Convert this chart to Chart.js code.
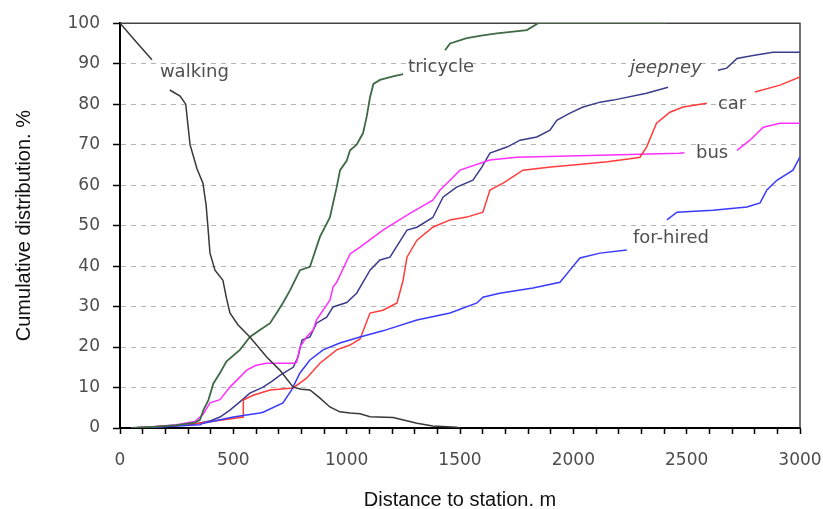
<!DOCTYPE html>
<html>
<head>
<meta charset="utf-8">
<script src="https://cdn.jsdelivr.net/npm/chart.js@4/dist/chart.umd.min.js"></script>
<style>
  html, body { margin: 0; padding: 0; background: #fff; }
  #cadre { width: 823px; height: 509px; }
</style>
</head>
<body>
<div id="cadre"><canvas id="graphique" width="823" height="509"></canvas></div>
<script>
// Distance (m) et part cumulee (%) par mode ; null = coupure pour l etiquette
const walkingX = [0, 70, 141, 180, 220, 265, 290, 309, 340, 366, 380, 388, 397, 419, 454, 470, 485, 520, 573, 648, 705, 764, 800, 838, 880, 926, 970, 1015, 1059, 1103, 1205, 1310, 1380, 1485, 1500];
const walkingY = [100, 95.5, 91, null, 83.5, 82, 80, 70, 64, 60.5, 55, 49.6, 43.2, 39, 36.5, 32, 28.4, 25.5, 22.5, 17.5, 14.3, 10.1, 9.6, 9.4, 7.5, 5.2, 4, 3.7, 3.5, 2.8, 2.6, 1.2, 0.5, 0.2, 0];

const tricycleX = [50, 150, 250, 330, 353, 368, 390, 412, 441, 470, 529, 573, 617, 662, 691, 720, 750, 794, 838, 882, 926, 956, 971, 1000, 1015, 1044, 1072, 1088, 1103, 1118, 1147, 1200, 1249, 1340, 1434, 1456, 1530, 1600, 1663, 1795, 1845, 2410];
const tricycleY = [0, 0.3, 0.7, 1.3, 2, 4.4, 6.9, 11, 13.6, 16.5, 19.3, 22.5, 24.2, 25.9, 28.4, 31, 34, 39, 39.8, 47.2, 52, 59.5, 63.7, 66, 68.6, 70, 72.8, 76.8, 81.7, 85, 86, 86.8, 87.4, null, 93.3, 95, 96.3, 97, 97.5, 98.3, 100, 100];

const jeepneyX = [50, 150, 250, 330, 400, 441, 485, 530, 573, 631, 670, 705, 764, 785, 803, 838, 867, 912, 940, 1000, 1044, 1103, 1147, 1191, 1266, 1310, 1380, 1425, 1485, 1557, 1597, 1632, 1707, 1765, 1839, 1897, 1927, 1985, 2043, 2118, 2176, 2323, 2418, 2530, 2638, 2677, 2722, 2793, 2881, 3000];
const jeepneyY = [0, 0.3, 0.6, 1, 1.8, 2.7, 4.4, 6.5, 8.6, 10.1, 11.5, 13, 15, 17.5, 21.7, 22.5, 25.9, 27.4, 29.9, 31, 33.3, 39, 41.5, 42.2, 48.9, 49.6, 52, 57, 59.5, 61.2, 64.5, 67.9, 69.4, 71.1, 71.9, 73.6, 76, 77.8, 79.3, 80.5, 81, 82.7, 84.2, null, 88.4, 88.9, 91.3, 92, 92.8, 92.8];

const carX = [50, 150, 250, 350, 450, 544, 544, 587, 662, 764, 823, 882, 956, 1015, 1059, 1103, 1160, 1222, 1249, 1266, 1310, 1380, 1456, 1530, 1601, 1632, 1690, 1778, 1900, 2000, 2150, 2250, 2294, 2323, 2367, 2426, 2484, 2589, 2700, 2801, 2912, 3000];
const carY = [0, 0.3, 0.6, 1.2, 2, 2.7, 6.9, 8.1, 9.4, 9.9, 12.3, 16, 19.3, 20.5, 22, 28.4, 29.1, 30.9, 36.5, 42.2, 46.4, 49.6, 51.4, 52.1, 53.3, 58.8, 60.5, 63.7, 64.5, 65, 65.8, 66.5, 66.9, 69.4, 75.3, 78, 79.3, 80.2, null, 83, 84.7, 86.7];

const busX = [50, 150, 250, 330, 353, 368, 397, 441, 485, 559, 600, 648, 764, 779, 794, 823, 852, 867, 926, 940, 956, 1015, 1059, 1160, 1279, 1380, 1412, 1456, 1500, 1632, 1750, 2118, 2469, 2490, 2600, 2722, 2779, 2838, 2912, 3000];
const busY = [0, 0.3, 0.8, 1.6, 2.7, 3.5, 6.2, 7, 10.1, 14.3, 15.5, 16, 16, 16.2, 20, 22.5, 24.2, 26.7, 31.6, 34.8, 36, 43, 44.7, 48.9, 53, 56.3, 58.8, 61.2, 63.7, 66.2, 66.9, 67.4, 67.9, 68, null, 68.6, 71.1, 74.3, 75.3, 75.3];

const hiredX = [50, 150, 250, 353, 368, 500, 617, 631, 719, 757, 794, 838, 896, 970, 1059, 1160, 1310, 1456, 1575, 1601, 1675, 1822, 1941, 1985, 2029, 2118, 2236, 2330, 2413, 2457, 2616, 2766, 2824, 2854, 2898, 2969, 3000];
const hiredY = [0, 0.2, 0.5, 0.8, 1.2, 2.7, 3.7, 3.9, 6.2, 9.4, 13.6, 16.8, 19.3, 21, 22.5, 24, 26.7, 28.4, 30.9, 32.3, 33.3, 34.6, 36, 39, 42, 43.2, 44, null, 51.4, 53.3, 53.8, 54.6, 55.6, 58.8, 61.2, 63.7, 67];

// Etiquettes posees dans le graphique (coordonnees en unites de donnees)
const labelText = ['walking', 'tricycle', 'jeepney', 'car', 'bus', 'for-hired'];
const labelX    = [176, 1271, 2250, 2638, 2541, 2263];
const labelY    = [87.9, 89.1, 88.9, 80, 67.9, 46.9];
const labelItal = [false, false, true, false, false, false];

function points(xs, ys) {
    return xs.map((x, i) => ({ x: x, y: ys[i] }));
}

function serie(nom, xs, ys, couleur, epaisseur) {
    return {
        label: nom,
        data: points(xs, ys),
        borderColor: couleur,
        backgroundColor: couleur,
        borderWidth: epaisseur || 1.5,
        pointRadius: 0,
        tension: 0,
        spanGaps: false,
    };
}

const TICK_FONT = { family: '"DejaVu Sans", sans-serif', size: 17 };
const TITLE_FONT = { family: '"Liberation Sans", Arial, sans-serif', size: 20 };

// cadre haut et droite
const pluginCadre = {
    id: 'cadre',
    beforeDatasetsDraw(chart) {
        const { ctx, chartArea: a } = chart;
        ctx.save();
        ctx.strokeStyle = '#444';
        ctx.lineWidth = 1.5;
        ctx.beginPath();
        ctx.moveTo(a.left, a.top);
        ctx.lineTo(a.right, a.top);
        ctx.lineTo(a.right, a.bottom);
        ctx.stroke();
        ctx.restore();
    }
};

const pluginEtiquettes = {
    id: 'etiquettes',
    afterDatasetsDraw(chart) {
        const { ctx, scales } = chart;
        ctx.save();
        ctx.fillStyle = '#505050';
        ctx.textAlign = 'left';
        ctx.textBaseline = 'middle';
        labelText.forEach((t, i) => {
            ctx.font = (labelItal[i] ? 'italic ' : '') + '18px "DejaVu Sans", sans-serif';
            ctx.fillText(t, scales.x.getPixelForValue(labelX[i]), scales.y.getPixelForValue(labelY[i]));
        });
        ctx.restore();
    }
};

new Chart(document.getElementById('graphique'), {
    type: 'line',
    data: {
        datasets: [
            serie('walking',   walkingX,  walkingY,  '#383838'),
            serie('tricycle',  tricycleX, tricycleY, '#3f6a46', 1.8),
            serie('for-hired', hiredX,    hiredY,    '#3a3aff'),
            serie('car',       carX,      carY,      '#ff3c3c'),
            serie('bus',       busX,      busY,      '#ff30ff'),
            serie('jeepney',   jeepneyX,  jeepneyY,  '#3c3c8c'),
        ]
    },
    options: {
        responsive: false,
        animation: false,
        devicePixelRatio: 1,
        layout: { padding: { top: 23, right: 23, left: 0, bottom: 0 } },
        plugins: { legend: { display: false }, tooltip: { enabled: false } },
        scales: {
            x: {
                type: 'linear',
                min: 0, max: 3000,
                afterFit: s => { s.height = 81; s.paddingRight = 0; s.paddingLeft = 0; },
                ticks: {
                    stepSize: 100,
                    autoSkip: false,
                    maxRotation: 0,
                    padding: 16,
                    color: '#4d4d4d',
                    font: TICK_FONT,
                    callback: v => (v % 500 === 0 ? String(v) : '')
                },
                grid: {
                    drawOnChartArea: false,
                    drawTicks: true,
                    tickLength: 6,
                    tickColor: '#000',
                    tickWidth: 1.5,
                },
                border: { color: '#000', width: 2 },
                title: {
                    display: true,
                    text: 'Distance to station. m',
                    color: '#111',
                    font: TITLE_FONT,
                    padding: { top: 0, bottom: -3 }
                }
            },
            y: {
                min: 0, max: 100,
                afterFit: s => { s.width = 120; },
                ticks: {
                    stepSize: 10,
                    padding: 13,
                    color: '#4d4d4d',
                    font: TICK_FONT,
                },
                grid: {
                    color: c => (c.tick && (c.tick.value === 0 || c.tick.value === 100)) ? 'rgba(0,0,0,0)' : '#b4b4b4',
                    lineWidth: 1,
                    tickLength: 7,
                    tickColor: '#000',
                    tickWidth: 1.5,
                    tickBorderDash: [],
                },
                border: { color: '#000', width: 2, dash: [5, 5] },
                title: {
                    display: true,
                    text: 'Cumulative distribution. %',
                    color: '#111',
                    font: TITLE_FONT,
                    padding: { top: 12, bottom: 0 }
                }
            }
        }
    },
    plugins: [pluginCadre, pluginEtiquettes]
});
</script>
</body>
</html>
